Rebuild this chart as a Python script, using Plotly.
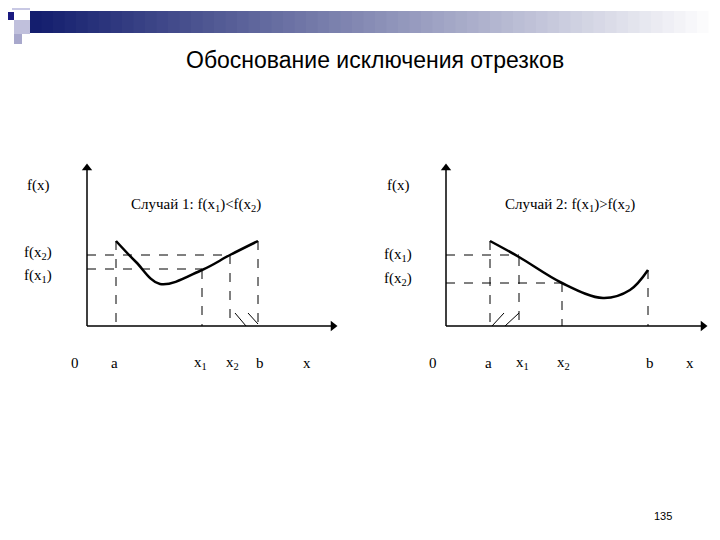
import plotly.graph_objects as go

# page is drawn in pixel coordinates (720 x 540, y downwards)
TITLE = "Обоснование исключения отрезков"
PAGE_NO = "135"

# case 1: f(x1) < f(x2)
c1_curve_x = [116, 136, 160, 202, 230, 258]
c1_curve_y = [241, 262, 284, 270, 255, 241]
c1_origin = (87, 326)
c1_ticks = {"a": 116, "x1": 202, "x2": 230, "b": 258}
c1_levels = {"f(x2)": (255, 230), "f(x1)": (269, 202)}
c1_label_y = {"f(x2)": 253, "f(x1)": 276}

# case 2: f(x1) > f(x2)
c2_curve_x = [490, 519, 562, 603, 630, 648]
c2_curve_y = [241, 257, 283, 298, 290, 270]
c2_origin = (446, 326)
c2_ticks = {"a": 490, "x1": 519, "x2": 562, "b": 648}
c2_levels = {"f(x1)": (255, 519), "f(x2)": (283, 562)}
c2_label_y = {"f(x1)": 255, "f(x2)": 279}

SERIF = "Liberation Serif"
FS = 15
PAD = 8  # browser body margin

fig = go.Figure()
shapes = []
annotations = []


def y_on_curve(xs, ys, x):
    for i in range(len(xs) - 1):
        if xs[i] <= x <= xs[i + 1]:
            t = (x - xs[i]) / (xs[i + 1] - xs[i])
            return ys[i] + t * (ys[i + 1] - ys[i])
    return ys[-1]


def sub(s):
    return s.replace("x1", "x<sub>1</sub>").replace("x2", "x<sub>2</sub>")


def add_diagram(cx, cy, origin, ticks, levels, label_y, x_end, case_text, case_pos, labels_x, hatch):
    ox, oy = origin
    fig.add_trace(go.Scatter(x=cx, y=cy, mode="lines", line=dict(color="black", width=2.5, shape="spline"),
                             showlegend=False, hoverinfo="skip"))
    # axes with arrows
    fig.add_trace(go.Scatter(x=[ox, ox], y=[oy, 170], mode="lines", line=dict(color="black", width=1.5),
                             showlegend=False, hoverinfo="skip"))
    fig.add_trace(go.Scatter(x=[ox, x_end], y=[oy, oy], mode="lines", line=dict(color="black", width=1.5),
                             showlegend=False, hoverinfo="skip"))
    fig.add_trace(go.Scatter(x=[ox, x_end], y=[168, oy], mode="markers",
                             marker=dict(symbol=["triangle-up", "triangle-right"], size=9, color="black"),
                             showlegend=False, hoverinfo="skip"))
    for name, tx in ticks.items():
        ty = y_on_curve(cx, cy, tx)
        shapes.append(dict(type="line", x0=tx, x1=tx, y0=ty, y1=oy, line=dict(color="black", width=1, dash="dash")))
    for name, (ly, lx) in levels.items():
        shapes.append(dict(type="line", x0=ox, x1=lx, y0=ly, y1=ly, line=dict(color="black", width=1, dash="dash")))
        annotations.append(dict(x=labels_x, y=label_y[name], text=sub(name), showarrow=False,
                                font=dict(size=FS)))
    annotations.append(dict(x=labels_x, y=185, text="f(x)", showarrow=False, font=dict(size=FS)))
    annotations.append(dict(x=case_pos[0], y=case_pos[1], text=case_text, showarrow=False, font=dict(size=FS)))
    for (x0, y0, x1, y1) in hatch:
        shapes.append(dict(type="line", x0=x0, x1=x1, y0=y0, y1=y1, line=dict(color="black", width=1)))


add_diagram(c1_curve_x, c1_curve_y, c1_origin, c1_ticks, c1_levels, c1_label_y, 333,
            "Случай 1: f(x<sub>1</sub>)<f(x<sub>2</sub>)", (196, 205), 38,
            [(235, 313, 246, 326), (248, 313, 258, 324)])
add_diagram(c2_curve_x, c2_curve_y, c2_origin, c2_ticks, c2_levels, c2_label_y, 703,
            "Случай 2: f(x<sub>1</sub>)>f(x<sub>2</sub>)", (570, 205), 398,
            [(492, 326, 504, 313), (505, 326, 519, 313)])

# bottom tick labels
for (lx, txt) in [(75, "0"), (114, "a"), (200, "x1"), (232, "x2"), (260, "b"), (307, "x"),
                  (433, "0"), (488, "a"), (522, "x1"), (563, "x2"), (650, "b"), (690, "x")]:
    annotations.append(dict(x=lx, y=363, text=sub(txt), showarrow=False, font=dict(size=FS)))

# header decoration: gradient bar and squares
n = 60
for i in range(n):
    t = i / (n - 1)
    r = int(20 + (255 - 20) * t)
    g = int(30 + (255 - 30) * t)
    b = int(110 + (255 - 110) * t)
    x0 = 30 + (720 - 30) * i / n
    shapes.append(dict(type="rect", x0=x0, x1=x0 + 690 / n + 1, y0=11, y1=33, line_width=0,
                       fillcolor=f"rgb({r},{g},{b})", layer="below"))
for (x0, y0, x1, y1, col) in [(0, 0, 8, 10, "#d8d8ec"), (12, 0, 30, 10, "#c8c8e4"), (0, 10, 8, 20, "#dcdcee"),
                              (8, 12, 14, 20, "#1a1a80"), (14, 20, 30, 34, "#c0c0dc"), (14, 34, 22, 44, "#a8a8cc"),
                              (0, 22, 8, 34, "#e4e4f2")]:
    shapes.append(dict(type="rect", x0=x0, x1=x1, y0=y0, y1=y1, line_width=0, fillcolor=col))

annotations.append(dict(x=375, y=60, text=TITLE, showarrow=False,
                        font=dict(family="Liberation Sans", size=23, color="black")))
annotations.append(dict(x=663, y=516, text=PAGE_NO, showarrow=False,
                        font=dict(family="Liberation Sans", size=11, color="black")))

fig.update_layout(
    width=720, height=540, margin=dict(l=0, r=0, t=0, b=0),
    plot_bgcolor="white", paper_bgcolor="white",
    xaxis=dict(range=[PAD, 720 + PAD], visible=False, fixedrange=True),
    yaxis=dict(range=[540 + PAD, PAD], visible=False, fixedrange=True),
    shapes=shapes, annotations=annotations,
    font=dict(family=SERIF, size=FS, color="black"),
)

fig.write_html("out.html")
